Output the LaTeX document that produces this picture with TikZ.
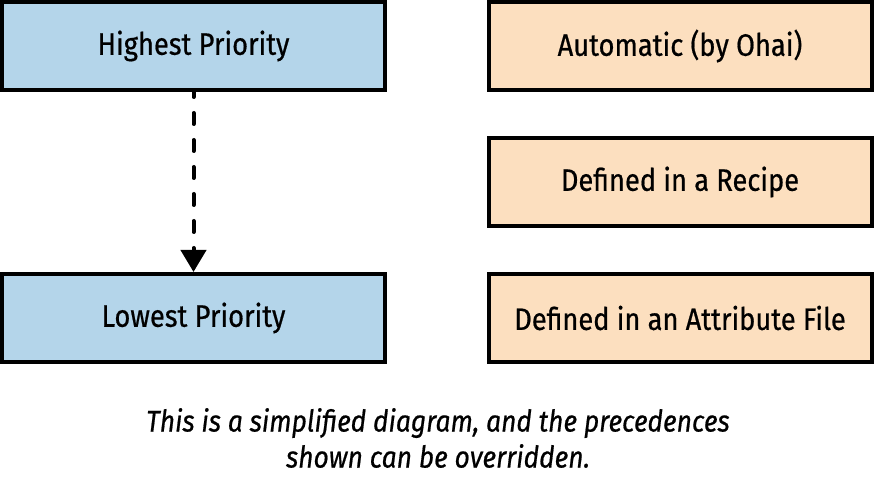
\documentclass[tikz,border=0pt]{standalone}
\usepackage{fontspec}
\setmainfont[FakeStretch=0.88, FakeBold=0.6]{Fira Sans}
\usepackage{xcolor}
\usetikzlibrary{arrows.meta}

\definecolor{prioblue}{RGB}{180,213,234}
\definecolor{srcorange}{RGB}{252,223,191}

\begin{document}
\begin{tikzpicture}[x=1pt, y=1pt,
  box/.style={draw=black, line width=4pt, minimum width=383pt,
    minimum height=88pt, inner sep=0pt, font=\fontsize{31}{36}\selectfont},
  prio/.style={box, fill=prioblue},
  src/.style={box, fill=srcorange}]
  \useasboundingbox (0, 0) rectangle (875, 487);

  % Priority scale
  \node[prio] (high) at (193.5, 441) {Highest Priority};
  \node[prio] (low) at (193.5, 169) {Lowest Priority};
  \draw[line width=4pt, line cap=round, dash pattern=on 11pt off 16pt,
    dash phase=6pt, -{Triangle[width=25pt, length=22pt, line cap=butt]}]
     (high.south) -- (low.north);

  % Attribute sources
  \node[src] (auto) at (680, 441) {Automatic (by Ohai)};
  \node[src] (recipe) at (680, 305) {Defined in a Recipe};
  \node[src] (attrfile) at (680, 169) {Defined in an Attribute File};

  % Caption
  \node[align=center, font=\fontsize{30}{36}\selectfont\itshape]
     (note) at (438, 49)
     {This is a simplified diagram, and the precedences\\shown can be overridden.};

\end{tikzpicture}
\end{document}
